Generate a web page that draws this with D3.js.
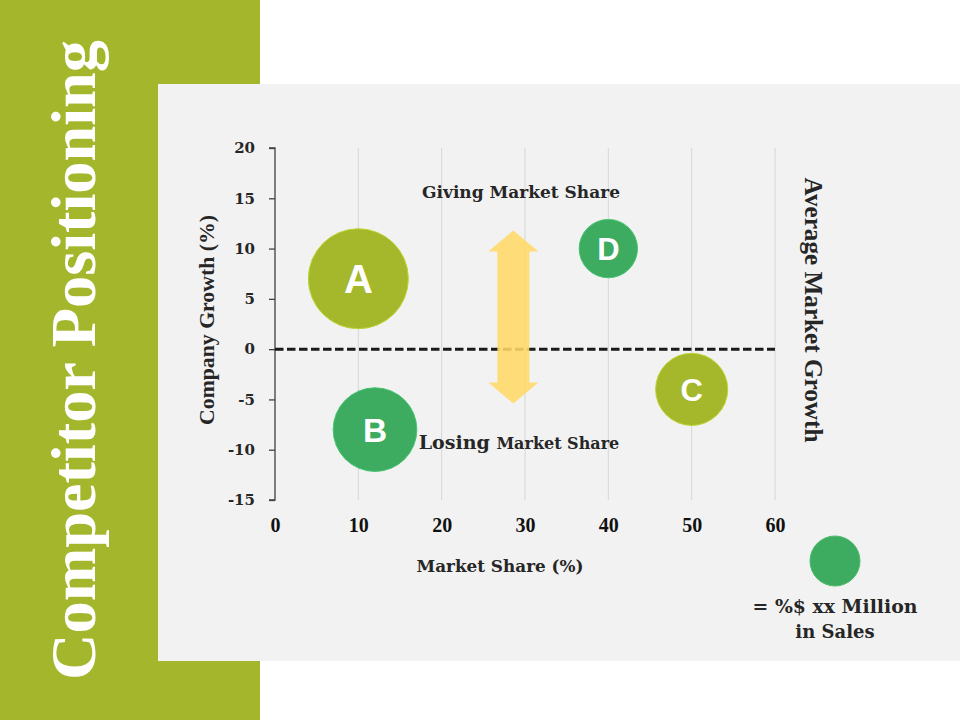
<!DOCTYPE html>
<html><head><meta charset="utf-8">
<script src="https://cdn.jsdelivr.net/npm/d3@7/dist/d3.min.js"></script>
<style>body{margin:0;background:#fff}svg{display:block}</style>
</head><body>
<svg id="c" width="960" height="720"></svg>
<script>
// ---- data ----
const companies = ["A", "B", "C", "D"];
const marketShare = [10, 12, 50, 40];
const companyGrowth = [7, -8, -4, 10];
const sales = [100, 70, 52, 34];
const bubbleColors = ["#a5b82b", "#3dab60", "#a5b82b", "#3dab60"];
const xTicks = [0, 10, 20, 30, 40, 50, 60];
const yTicks = [20, 15, 10, 5, 0, -5, -10, -15];
const averageGrowth = 0;
const arrowX = 28.6;
const arrowY = [11.8, -5.4];
const legendSales = 25;
const title = "Competitor Positioning";

const svg = d3.select("#c");
const times = "'Liberation Serif',serif";
const georgia = "'DejaVu Serif',serif";
const dark = "#262626";

function fit(sel, target) {
  const s = +sel.attr("font-size");
  const w = sel.node().getComputedTextLength();
  sel.attr("font-size", s * target / w);
  return sel;
}

// background panels
svg.append("rect").attr("x",0).attr("y",0).attr("width",260).attr("height",720).attr("fill","#a4b62b");
svg.append("rect").attr("x",158).attr("y",84).attr("width",802).attr("height",577).attr("fill","#f2f2f2");

// title
fit(svg.append("text").attr("transform","translate(95,360) rotate(-90)")
  .attr("text-anchor","middle").attr("fill","#fff").attr("font-family",times)
  .attr("font-weight","bold").attr("font-size",56).text(title), 640);

// scales
const x = d3.scaleLinear().domain([0,60]).range([275,775]);
const y = d3.scaleLinear().domain([-15,20]).range([500,148]);
const r = d3.scaleSqrt().domain([0,100]).range([0,50]);

// gridlines
svg.append("g").selectAll("line").data(xTicks.filter(d=>d>0)).join("line")
  .attr("x1",d=>x(d)).attr("x2",d=>x(d)).attr("y1",y(20)).attr("y2",y(-15))
  .attr("stroke","#d6d6d6").attr("stroke-width",1);

// y axis
const ya = svg.append("g").attr("transform",`translate(${x(0)},0)`)
  .call(d3.axisLeft(y).tickValues(yTicks).tickSize(6).tickPadding(14).tickFormat(d=>String(d)));
ya.select(".domain").attr("stroke","#404040").attr("stroke-width",1.3).attr("d",`M-6,${y(20)}H0V${y(-15)}H-6`);
ya.selectAll(".tick line").attr("stroke","#404040").attr("stroke-width",1.3);
ya.selectAll(".tick text").attr("font-family",georgia).attr("font-weight","bold")
  .attr("font-size",15).attr("fill",dark);

// x axis (labels only)
const xa = svg.append("g").attr("transform",`translate(0,${y(-15)})`)
  .call(d3.axisBottom(x).tickValues(xTicks).tickSize(0).tickPadding(18).tickFormat(d=>String(d)));
xa.select(".domain").remove();
xa.selectAll(".tick text").attr("font-family",times).attr("font-weight","bold")
  .attr("font-size",20).attr("fill","#111");

// axis titles
fit(svg.append("text").attr("transform","translate(214,320) rotate(-90)").attr("text-anchor","middle")
  .attr("font-family",times).attr("font-weight","bold").attr("font-size",16).attr("fill",dark)
  .text("Company Growth (%)"), 210);
fit(svg.append("text").attr("x",500).attr("y",572).attr("text-anchor","middle")
  .attr("font-family",georgia).attr("font-weight","bold").attr("font-size",15).attr("fill",dark)
  .text("Market Share (%)"), 167);

// average growth dashed line
svg.append("line").attr("x1",x(0)).attr("x2",x(60)).attr("y1",y(averageGrowth)).attr("y2",y(averageGrowth))
  .attr("stroke","#1a1a1a").attr("stroke-width",3).attr("stroke-dasharray","8.5,3.5");

fit(svg.append("text").attr("transform","translate(805,310) rotate(90)").attr("text-anchor","middle")
  .attr("font-family",times).attr("font-weight","bold").attr("font-size",21).attr("fill",dark)
  .text("Average Market Growth"), 265);

// arrow
const ax = x(arrowX), yt = y(arrowY[0]), yb = y(arrowY[1]);
const sw = 16, hw = 25, hh = 21;
svg.append("path").attr("fill","#ffd966").attr("opacity",0.88)
  .attr("d",`M${ax},${yt} L${ax+hw},${yt+hh} L${ax+sw},${yt+hh} L${ax+sw},${yb-hh} L${ax+hw},${yb-hh} L${ax},${yb} L${ax-hw},${yb-hh} L${ax-sw},${yb-hh} L${ax-sw},${yt+hh} L${ax-hw},${yt+hh} Z`);

fit(svg.append("text").attr("x",521).attr("y",198).attr("text-anchor","middle")
  .attr("font-family",georgia).attr("font-weight","bold").attr("font-size",16).attr("fill",dark)
  .text("Giving Market Share"), 198);
const lt = svg.append("text").attr("x",519).attr("y",449).attr("text-anchor","middle")
  .attr("font-family",georgia).attr("font-weight","bold").attr("fill",dark);
lt.append("tspan").attr("font-size",19).text("Losing ");
lt.append("tspan").attr("font-size",16).text("Market Share");

// bubbles
const data = companies.map((c,i)=>({c, x:marketShare[i], y:companyGrowth[i], s:sales[i], col:bubbleColors[i]}));
const g = svg.append("g").selectAll("g").data(data).join("g")
  .attr("transform",d=>`translate(${x(d.x)},${y(d.y)})`);
g.append("circle").attr("r",d=>r(d.s)).attr("fill",d=>d.col)
  .attr("stroke",d=>d3.color(d.col).brighter(0.4)).attr("stroke-width",1);
g.append("text").attr("text-anchor","middle").attr("dy","0.36em")
  .attr("font-family","'Liberation Sans',Arial,sans-serif").attr("font-weight","bold")
  .attr("font-size",d=>Math.max(31, r(d.s)*0.8)).attr("fill","#fff").text(d=>d.c);

// legend
svg.append("circle").attr("cx",835).attr("cy",561).attr("r",r(legendSales)).attr("fill","#3dab60")
  .attr("stroke","#4fba6c").attr("stroke-width",1);
fit(svg.append("text").attr("x",835).attr("y",613).attr("text-anchor","middle")
  .attr("font-family",georgia).attr("font-weight","bold").attr("font-size",18).attr("fill",dark)
  .text("= %$ xx Million"), 165);
svg.append("text").attr("x",835).attr("y",638).attr("text-anchor","middle")
  .attr("font-family",georgia).attr("font-weight","bold").attr("font-size",18).attr("fill",dark)
  .text("in Sales");
</script>
</body></html>
